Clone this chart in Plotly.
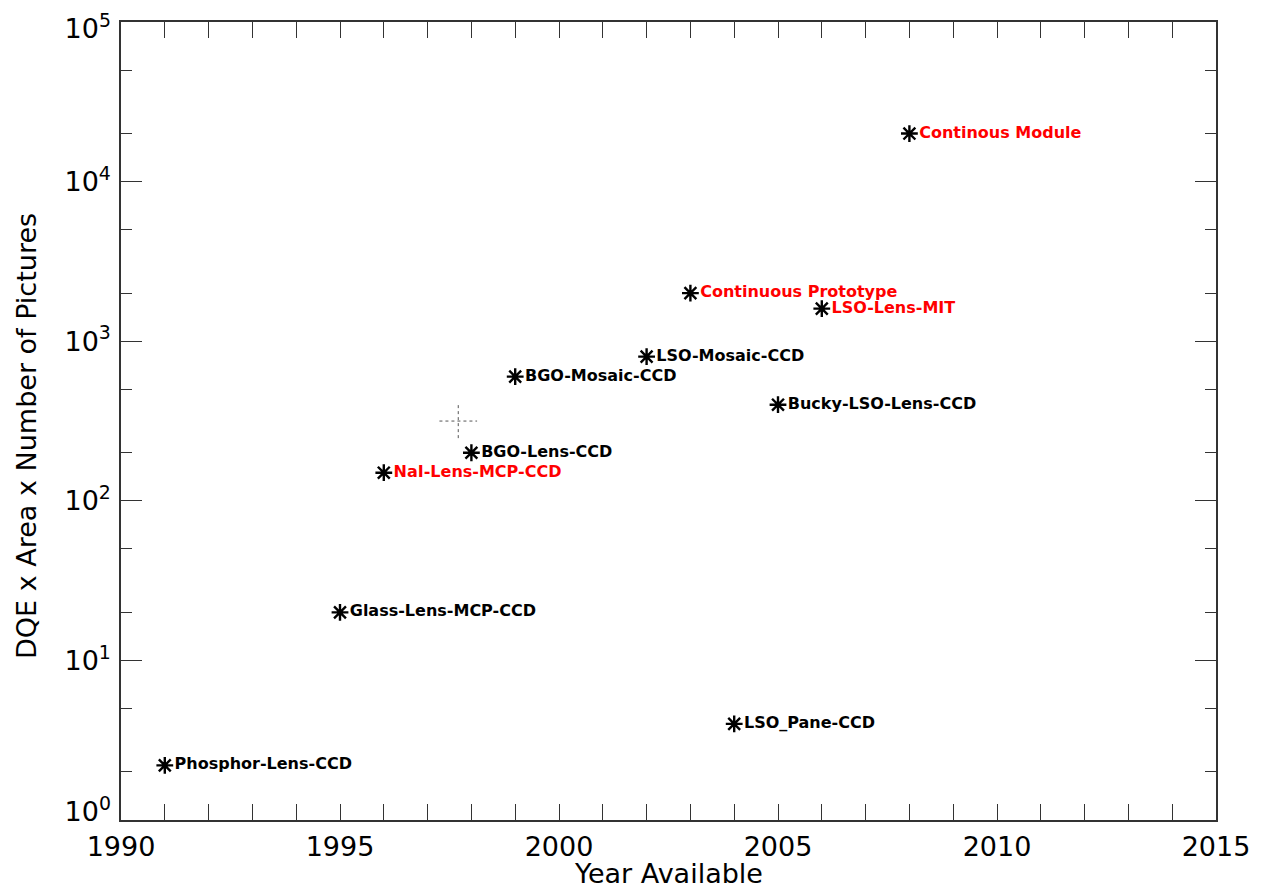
import plotly.graph_objects as go

# Data
names = ["Phosphor-Lens-CCD", "Glass-Lens-MCP-CCD", "NaI-Lens-MCP-CCD", "BGO-Lens-CCD",
         "BGO-Mosaic-CCD", "LSO-Mosaic-CCD", "Continuous Prototype", "LSO-Lens-MIT",
         "Bucky-LSO-Lens-CCD", "LSO_Pane-CCD", "Continous Module"]
years = [1991, 1995, 1996, 1998, 1999, 2002, 2003, 2006, 2005, 2004, 2008]
values = [2.2, 20, 150, 200, 600, 800, 2000, 1600, 400, 4, 20000]
label_colors = ["black", "black", "red", "black", "black", "black", "red", "red",
                "black", "black", "red"]

# dotted cross (legend-like artifact)
cross_center = (1997.7, 316)
cross_dx = 0.43
cross_y = (247, 405)

x_ticks = [1990, 1995, 2000, 2005, 2010, 2015]
y_tickvals = [1, 10, 100, 1000, 10000, 100000]
y_ticktext = ["10<sup>0</sup>", "10<sup>1</sup>", "10<sup>2</sup>", "10<sup>3</sup>",
              "10<sup>4</sup>", "10<sup>5</sup>"]
x_title = "Year Available"
y_title = "DQE x Area x Number of Pictures"

fig = go.Figure()

fig.add_trace(go.Scatter(
    x=[cross_center[0] - cross_dx, cross_center[0] + cross_dx],
    y=[cross_center[1], cross_center[1]],
    mode="lines", line=dict(color="#555", width=1, dash="dot"),
    hoverinfo="skip", showlegend=False))
fig.add_trace(go.Scatter(
    x=[cross_center[0], cross_center[0]], y=list(cross_y),
    mode="lines", line=dict(color="#555", width=1, dash="dot"),
    hoverinfo="skip", showlegend=False))

fig.add_trace(go.Scatter(
    x=years, y=values, mode="markers+text",
    text=names, textposition="middle right",
    textfont=dict(family="DejaVu Sans", size=16, color=label_colors, weight="bold"),
    marker=dict(symbol="asterisk-open", size=14, color="black",
                line=dict(color="black", width=2.4)),
    showlegend=False))

# invisible carriers so the overlay axes (for end-decade labels) are drawn
for ax in ("y2", "y3"):
    fig.add_trace(go.Scatter(x=years, y=values, yaxis=ax, mode="markers",
                             marker=dict(opacity=0), hoverinfo="skip", showlegend=False))

axis_font = dict(family="DejaVu Sans", size=27, color="black")
line_col = "#333"

fig.update_xaxes(
    range=[1990, 2015], tickvals=x_ticks, ticks="inside", ticklen=16, tickwidth=1.2,
    tickcolor=line_col, mirror="allticks", showline=True, linecolor=line_col, linewidth=1.5,
    showgrid=False, zeroline=False, tickfont=axis_font, automargin=False,
    ticklabeloverflow="allow", ticklabelstandoff=2,
    minor=dict(ticks="inside", ticklen=7, tickwidth=1.2, tickcolor=line_col, dtick=1, showgrid=False))

# main y axis: ticks everywhere, labels only for the middle decades
fig.update_layout(yaxis=dict(
    type="log", range=[0, 5], tickvals=y_tickvals,
    ticktext=[""] + y_ticktext[1:-1] + [""],
    ticks="inside", ticklen=21, tickwidth=1.2, tickcolor=line_col, mirror="allticks",
    showline=True, linecolor=line_col, linewidth=1.5, showgrid=False, zeroline=False,
    tickfont=axis_font, automargin=False, ticklabeloverflow="allow", ticklabelstandoff=3,
    minor=dict(ticks="inside", ticklen=11, tickwidth=1.2, tickcolor=line_col, showgrid=False)))

# end decade labels nudged inward (as in the original)
fig.update_layout(yaxis2=dict(
    type="log", range=[0, 5], overlaying="y", side="left", tickvals=[y_tickvals[-1]],
    ticktext=[y_ticktext[-1]], ticks="", showline=False, showgrid=False, zeroline=False,
    tickfont=axis_font, automargin=False, ticklabeloverflow="allow", ticklabelstandoff=9,
    ticklabelshift=7))
fig.update_layout(yaxis3=dict(
    type="log", range=[0, 5], overlaying="y", side="left", tickvals=[y_tickvals[0]],
    ticktext=[y_ticktext[0]], ticks="", showline=False, showgrid=False, zeroline=False,
    tickfont=axis_font, automargin=False, ticklabeloverflow="allow", ticklabelstandoff=9,
    ticklabelshift=-8))

fig.add_annotation(text=x_title, xref="paper", yref="paper", x=0.5, y=0,
                   xanchor="center", yanchor="middle", yshift=-53, showarrow=False,
                   font=dict(family="DejaVu Sans", size=27, color="black"))
fig.add_annotation(text=y_title, xref="paper", yref="paper", x=0, y=0.5,
                   xanchor="center", yanchor="middle", xshift=-95, yshift=-15,
                   textangle=-90, showarrow=False,
                   font=dict(family="DejaVu Sans", size=27, color="black"))

fig.update_layout(
    width=1254, height=880, plot_bgcolor="white", paper_bgcolor="white",
    margin=dict(l=113, r=46, t=14, b=68, autoexpand=False))

fig.write_html("out.html")
